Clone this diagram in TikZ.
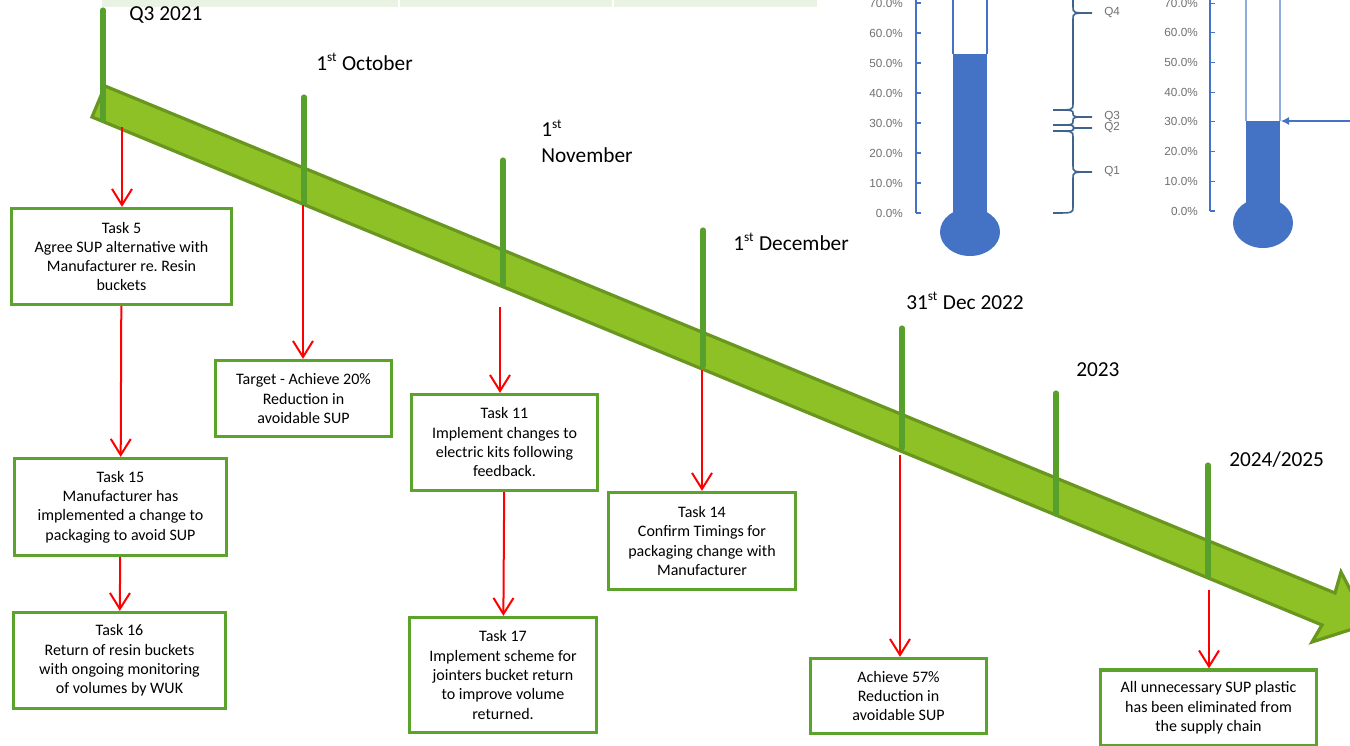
\documentclass[tikz,border=0pt]{standalone}
\usepackage{fontspec}
\setmainfont{Carlito}
\newfontfamily\axisfont{Liberation Sans}
\usepackage{tikz}
\usetikzlibrary{arrows.meta}
\frenchspacing

\definecolor{barfill}{RGB}{141,193,38}
\definecolor{baredge}{RGB}{104,150,30}
\definecolor{stemgreen}{RGB}{88,160,44}
\definecolor{boxgreen}{RGB}{92,163,46}
\definecolor{stripgreen}{RGB}{234,242,228}
\definecolor{gauge}{RGB}{68,114,196}
\definecolor{bracecol}{RGB}{62,100,140}
\definecolor{pctgray}{RGB}{112,112,112}

\begin{document}
\begin{tikzpicture}
  [
    x=0.75pt, y=-0.75pt,
    >={Straight Barb[length=12pt,width=15pt]},
    task/.style 2 args = {draw=boxgreen, line width=2.5pt, fill=white, align=center, inner sep=0pt,
                          minimum width=#1*0.75pt, minimum height=#2*0.75pt,
                          font=\fontsize{12}{14.5}\selectfont},
    date/.style  = {anchor=base west, inner sep=0pt, font=\fontsize{16}{19.5}\selectfont},
    stem/.style  = {draw=stemgreen, line width=3.8pt, line cap=round},
    link/.style  = {->, draw=red, line width=1.5pt},
    axis/.style  = {draw=gauge, line width=0.8pt},
    pct/.style   = {anchor=east, inner sep=0pt, text=pctgray, font=\axisfont\fontsize{8.8}{10}\selectfont},
    quart/.style = {draw=bracecol, line width=1.2pt},
  ]

\useasboundingbox (0,0) rectangle (1350,746);
\clip (0,0) rectangle (1350,746);

%Header strip left over at the top
\foreach \xa/\xb in {102/398, 400/612, 614/817}
  \fill[stripgreen] (\xa,0) rectangle (\xb,7);

%Timeline arrow
\draw[fill=barfill, draw=baredge, line width=2.4pt, line join=miter]
  (105,86) -- (1335,593) -- (1341,572) -- (1368,624) -- (1312,642) -- (1322,625) -- (92,117) -- cycle;

%Date stems on the timeline
\foreach \x/\ya/\yb in {103/10/120, 304/97/203, 503/160/284, 703/230/366, 902/328/448, 1056/393/514, 1208/465/576}
  \draw[stem] (\x,\ya) -- (\x,\yb);

%Date labels
\def\st{\textsuperscript{\fontsize{10}{10}\selectfont st}}
\node[date] (q3)  at (129,21)  {Q3 2021};
\node[date] (oct) at (316,70)  {1\st{} October};
\node[date, anchor=west, align=left] (nov) at (541,141.5) {1\st\\November};
\node[date] (dec) at (733,250) {1\st{} December};
\node[date] (eoy) at (906,309) {31\st{} Dec 2022};
\node[date] (y23) at (1076,376) {2023};
\node[date] (y25) at (1229,466) {2024/2025};

%Feet of the red links below the timeline
\coordinate (q3foot)  at (122,127);
\coordinate (octfoot) at (303,205);
\coordinate (novfoot) at (500,307);
\coordinate (decfoot) at (702,370);
\coordinate (eoyfoot) at (900,455);
\coordinate (y25foot) at (1209,590);

%Task boxes
\node[task={220}{96}]  (task5)   at (121.5,256.5) {Task 5\\Agree SUP alternative with\\Manufacturer re. Resin\\buckets};
\node[task={176}{76}]  (target)  at (303.5,398.5) {Target - Achieve 20\%\\Reduction in\\avoidable SUP};
\node[task={186}{96}]  (task11)  at (504.5,442.5) {Task 11\\Implement changes to\\electric kits following\\feedback.};
\node[task={187}{97}]  (task14)  at (702,541)     {Task 14\\Confirm Timings for\\packaging change with\\Manufacturer};
\node[task={212}{97}]  (task15)  at (120.5,507)   {Task 15\\Manufacturer has\\implemented a change to\\packaging to avoid SUP};
\node[task={212}{96}]  (task16)  at (119.5,660.5) {Task 16\\Return of resin buckets\\with ongoing monitoring\\of volumes by WUK};
\node[task={187}{115}] (task17)  at (503,675)     {Task 17\\Implement scheme for\\jointers bucket return\\to improve volume\\returned.};
\node[task={176}{75}]  (goal57)  at (898.5,696)   {Achieve 57\%\\Reduction in\\avoidable SUP};
\node[task={216}{76}]  (goalall) at (1208.5,708)  {All unnecessary SUP plastic\\has been eliminated from\\the supply chain};

%Red links
\draw[link] (q3foot) -- (q3foot |- task5.north);
\draw[link] (task5) -- (task15);
\draw[link] (task15) -- (task16);
\draw[link] (octfoot) -- (octfoot |- target.north);
\draw[link] (novfoot) -- (novfoot |- task11.north);
\draw[link] (task11) -- (task17);
\draw[link] (decfoot) -- (decfoot |- task14.north);
\draw[link] (eoyfoot) -- (eoyfoot |- goal57.north);
\draw[link] (y25foot) -- (y25foot |- goalall.north);

%Left gauge
\draw[axis] (916,-5) -- (916,213);
\foreach \k/\v in {0/0.0, 1/10.0, 2/20.0, 3/30.0, 4/40.0, 5/50.0, 6/60.0, 7/70.0}
{
  \draw[axis] (916,{213-\k*30}) -- (921,{213-\k*30});
  \node[pct] (la\k) at (903,{213-\k*30}) {\v\%};
}
\draw[gauge, line width=0.8pt] (953,-5) -- (953,54) (987,-5) -- (987,54);
\fill[gauge] (953,54) rectangle (987,225);
\fill[gauge] (970,232) ellipse [x radius=30, y radius=24];

%Quarter braces
\foreach \ya/\yb/\ym/\q in {213/131/172/Q1, 131/125/128/Q2, 125/110/117/Q3, 110/-84/13/Q4}
{
  \pgfmathsetmacro{\curl}{min(6,(\ya-(\yb))/4)}
  \draw[quart] (1053,\ya) .. controls (1073,\ya) .. (1073,\ya-\curl) -- (1073,\ym+\curl)
     .. controls (1073,\ym) .. (1092,\ym) .. controls (1073,\ym) .. (1073,\ym-\curl)
     -- (1073,\yb+\curl) .. controls (1073,\yb) .. (1053,\yb);
  \node[pct, anchor=west] (\q) at (1104,\ym) {\q};
}

%Right gauge
\draw[axis] (1210,-5) -- (1210,211);
\foreach \k/\v in {0/0.0, 1/10.0, 2/20.0, 3/30.0, 4/40.0, 5/50.0, 6/60.0, 7/70.0}
{
  \draw[axis] (1210,{211-\k*29.7}) -- (1215,{211-\k*29.7});
  \node[pct] (lb\k) at (1198,{211-\k*29.7}) {\v\%};
}
\draw[gauge!60, line width=0.8pt] (1246,-5) -- (1246,121) (1280,-5) -- (1280,121);
\fill[gauge] (1246,121) rectangle (1280,215);
\fill[gauge] (1263,223) ellipse [x radius=30, y radius=25];
\coordinate (level) at (1281,121);
\draw[gauge, line width=0.8pt, -{Latex[length=6pt,width=6pt]}] (1352,121) -- (level);

\end{tikzpicture}
\end{document}
